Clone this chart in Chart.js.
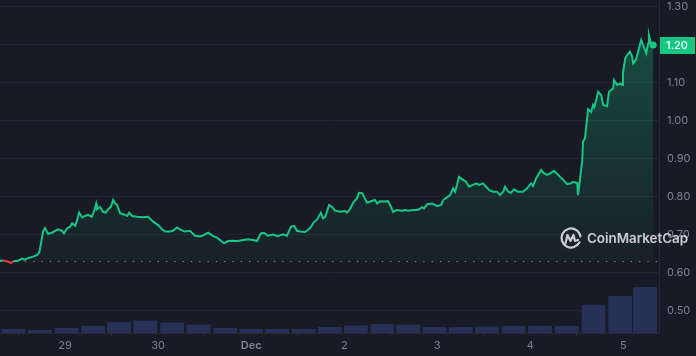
<!DOCTYPE html>
<html>
<head>
<meta charset="utf-8">
<script src="https://cdn.jsdelivr.net/npm/chart.js@4"></script>
<style>
  html, body { margin: 0; padding: 0; background: #181a25; }
  #wrap { width: 696px; height: 356px; position: relative; }
</style>
</head>
<body>
<div id="wrap"><canvas id="c" width="696" height="356"></canvas></div>
<script>
// time in hours since Nov 28 00:00
const hours = [7.2,8.0,9.3,10.0,10.6,11.8,12.9,13.6,14.4,15.7,16.7,17.3,17.8,18.3,18.8,19.6,20.6,21.4,22.2,23.2,23.7,24.5,25.3,25.8,26.6,27.1,27.6,28.4,29.1,29.9,30.9,31.5,32.0,32.2,33.0,33.8,34.5,35.1,35.8,36.4,36.9,37.4,38.2,39.2,40.0,40.5,41.3,42.5,44.1,45.4,46.7,48.0,49.0,49.8,51.1,51.8,52.9,53.6,54.9,56.2,57.5,58.8,59.8,60.9,62.2,63.2,64.5,65.0,66.0,67.3,68.6,69.9,71.2,72.5,73.5,74.5,75.3,76.3,77.6,78.9,80.2,81.2,82.3,83.1,83.8,84.6,85.9,87.2,88.2,89.0,90.0,90.5,91.1,92.1,92.9,93.6,94.9,96.2,96.7,97.5,98.3,99.3,99.8,100.6,101.1,101.9,102.7,103.9,104.5,105.2,106.5,107.3,108.1,108.6,109.6,110.9,111.7,112.5,113.8,115.0,116.1,116.6,117.4,118.7,120.0,121.0,121.5,122.5,123.3,124.1,124.6,125.1,125.6,126.7,127.4,128.2,129.2,130.0,130.8,131.8,132.6,133.4,134.4,135.4,136.2,137.0,137.5,138.3,139.0,139.8,140.8,142.1,143.2,144.2,144.7,145.5,146.0,146.8,147.3,148.3,149.1,150.1,150.9,151.7,152.5,153.5,154.5,155.0,156.1,156.3,156.8,157.4,157.6,158.1,158.7,158.9,159.7,160.2,160.5,161.0,161.5,162.3,162.8,163.8,164.3,165.4,165.6,166.4,167.2,167.7,167.9,168.5,169.0,169.7,170.3,170.5,171.3,171.8,172.6,173.1,173.9,174.4,174.6,175.2,175.7];
const prices = [0.632,0.633,0.630,0.626,0.631,0.632,0.638,0.635,0.639,0.643,0.647,0.653,0.679,0.709,0.718,0.703,0.706,0.711,0.715,0.711,0.704,0.718,0.722,0.731,0.724,0.739,0.759,0.746,0.750,0.753,0.748,0.764,0.782,0.768,0.774,0.761,0.759,0.768,0.774,0.792,0.783,0.779,0.757,0.754,0.750,0.759,0.750,0.748,0.747,0.748,0.735,0.726,0.715,0.709,0.709,0.711,0.720,0.715,0.709,0.711,0.698,0.696,0.700,0.706,0.697,0.693,0.682,0.678,0.684,0.685,0.684,0.687,0.689,0.687,0.684,0.704,0.706,0.698,0.701,0.697,0.702,0.698,0.722,0.724,0.711,0.709,0.708,0.718,0.734,0.741,0.759,0.744,0.748,0.779,0.774,0.764,0.761,0.763,0.759,0.768,0.785,0.797,0.811,0.810,0.801,0.785,0.788,0.792,0.783,0.789,0.788,0.789,0.774,0.761,0.766,0.764,0.766,0.764,0.766,0.766,0.773,0.770,0.781,0.783,0.776,0.779,0.792,0.799,0.805,0.823,0.814,0.832,0.853,0.845,0.840,0.827,0.832,0.836,0.832,0.836,0.827,0.818,0.814,0.814,0.805,0.814,0.827,0.814,0.811,0.820,0.814,0.814,0.823,0.836,0.829,0.849,0.858,0.871,0.864,0.858,0.862,0.869,0.861,0.853,0.845,0.834,0.836,0.840,0.837,0.805,0.845,0.897,0.946,0.954,1.011,1.031,1.024,1.042,1.036,1.055,1.077,1.068,1.042,1.039,1.077,1.086,1.108,1.095,1.099,1.095,1.126,1.165,1.174,1.182,1.169,1.152,1.162,1.182,1.213,1.200,1.178,1.204,1.226,1.200,1.200];
const openPrice = 0.631;

const volHours = [10.7,17.5,24.4,31.2,37.9,44.7,51.6,58.4,65.3,72.0,78.7,85.5,92.3,99.0,105.8,112.5,119.3,126.1,132.8,139.7,146.5,153.4,160.3,167.2,173.6];
const volumes  = [6.0,4.5,7.5,10.5,16.5,18.8,15.8,12.8,7.5,6.0,6.0,6.0,9.0,11.3,13.5,12.8,9.0,9.0,9.8,10.5,10.5,10.5,42.0,55.5,69.0];

const dayTickHours = [24,48,72,96,120,144,168];
const dayLabels = ['29','30','Dec','2','3','4','5'];
const priceTicks = [0.5,0.6,0.7,0.8,0.9,1.0,1.1,1.2,1.3];

const GREEN = '#16c784';
const RED = '#ea3943';
const lastIdx = prices.length - 1;

const bgPlugin = {
  id: 'bg',
  beforeDraw(chart) {
    const c = chart.ctx;
    c.save();
    c.fillStyle = '#181a25';
    c.fillRect(0, 0, chart.width, chart.height);
    c.restore();
  }
};

const baselinePlugin = {
  id: 'baseline',
  beforeDatasetsDraw(chart) {
    const c = chart.ctx, a = chart.chartArea;
    const y = Math.round(chart.scales.y.getPixelForValue(openPrice)) + 0.5;
    c.save();
    c.strokeStyle = '#8b909f';
    c.lineWidth = 1.2;
    c.setLineDash([1.3, 7]);
    c.beginPath();
    c.moveTo(a.left, y);
    c.lineTo(a.right, y);
    c.stroke();
    c.restore();
  }
};

const overlayPlugin = {
  id: 'overlay',
  afterDraw(chart) {
    const c = chart.ctx, a = chart.chartArea;
    // last price badge
    const yv = chart.scales.y.getPixelForValue(prices[lastIdx]);
    c.save();
    c.fillStyle = GREEN;
    c.fillRect(a.right + 1, yv - 8, 35, 17);
    c.fillStyle = '#ffffff';
    c.font = '500 11px Inter';
    c.textAlign = 'center';
    c.textBaseline = 'middle';
    c.fillText(prices[lastIdx].toFixed(2), a.right + 18, yv + 0.5);
    c.restore();

    // watermark
    c.save();
    c.globalAlpha = 0.88;
    c.strokeStyle = '#e4e5ea';
    c.fillStyle = '#e4e5ea';
    c.lineWidth = 2.2;
    c.lineCap = 'round';
    c.lineJoin = 'round';
    const cx = 571, cy = 238, r = 9.5;
    c.beginPath();
    c.arc(cx, cy, r, Math.PI * 0.15, Math.PI * 1.95, false);
    c.stroke();
    c.beginPath();
    c.moveTo(cx - 5.5, cy + 5);
    c.lineTo(cx - 3.5, cy - 3);
    c.lineTo(cx - 0.5, cy + 3);
    c.lineTo(cx + 2.5, cy - 3);
    c.lineTo(cx + 4, cy + 3);
    c.lineTo(cx + 7, cy + 2);
    c.stroke();
    c.font = '600 13.4px Inter';
    c.textBaseline = 'middle';
    c.textAlign = 'left';
    c.fillText('CoinMarketCap', 587, 239);
    c.restore();
  }
};

const ctx = document.getElementById('c').getContext('2d');
new Chart(ctx, {
  type: 'line',
  data: {
    datasets: [
      {
        type: 'line',
        data: hours.map((h, i) => ({ x: h, y: prices[i] })),
        yAxisID: 'y',
        borderColor: GREEN,
        borderWidth: 2,
        tension: 0,
        pointRadius: (c) => c.dataIndex === lastIdx ? 3.5 : 0,
        pointBackgroundColor: GREEN,
        pointBorderWidth: 0,
        backgroundColor: (c) => {
          const area = c.chart.chartArea;
          if (!area) return 'rgba(22,199,132,0.15)';
          const ys = c.chart.scales.y;
          const g = c.chart.ctx.createLinearGradient(0, ys.getPixelForValue(1.25), 0, ys.getPixelForValue(openPrice));
          g.addColorStop(0, 'rgba(22,199,132,0.30)');
          g.addColorStop(1, 'rgba(22,199,132,0.03)');
          return g;
        },
        fill: { target: { value: openPrice }, below: 'rgba(234,57,67,0.10)' },
        segment: {
          borderColor: (s) => (s.p0.parsed.y < openPrice || s.p1.parsed.y < openPrice) ? RED : undefined
        },
        order: 0
      },
      {
        type: 'bar',
        data: volHours.map((h, i) => ({ x: h, y: volumes[i] })),
        yAxisID: 'yv',
        backgroundColor: '#273057',
        barPercentage: 0.96,
        categoryPercentage: 1,
        order: 1
      }
    ]
  },
  options: {
    responsive: false,
    animation: false,
    events: [],
    layout: { padding: 0, autoPadding: false },
    plugins: { legend: { display: false }, tooltip: { enabled: false } },
    scales: {
      x: {
        type: 'linear',
        min: 7.2,
        max: 177.2,
        offset: false,
        afterBuildTicks: (s) => { s.ticks = dayTickHours.map(v => ({ value: v })); },
        afterFit: (s) => { s.height = 23; s.paddingLeft = 0; s.paddingRight = 0; },
        ticks: {
          autoSkip: false,
          maxRotation: 0,
          padding: 2,
          color: '#7d8394',
          font: (c) => ({ family: 'Inter', size: 11, weight: (c.tick && c.tick.value === 72) ? '600' : '400' }),
          callback: (v) => dayLabels[dayTickHours.indexOf(v)]
        },
        grid: { drawOnChartArea: false, drawTicks: true, tickLength: 4, color: '#2a2e3c' },
        border: { display: true, color: '#262a37', width: 1 }
      },
      y: {
        type: 'linear',
        position: 'right',
        min: 0.4421,
        max: 1.3184,
        afterBuildTicks: (s) => { s.ticks = priceTicks.map(v => ({ value: v })); },
        afterFit: (s) => { s.width = 37; s.paddingTop = 0; s.paddingBottom = 0; },
        ticks: {
          padding: 8,
          color: '#7d8394',
          font: { family: 'Inter', size: 11 },
          callback: (v) => Number(v).toFixed(2)
        },
        grid: { drawTicks: false, color: '#222532' },
        border: { display: true, color: '#262a37', width: 1 }
      },
      yv: {
        type: 'linear',
        display: false,
        min: 0,
        max: 500
      }
    }
  },
  plugins: [bgPlugin, baselinePlugin, overlayPlugin]
});
</script>
</body>
</html>
